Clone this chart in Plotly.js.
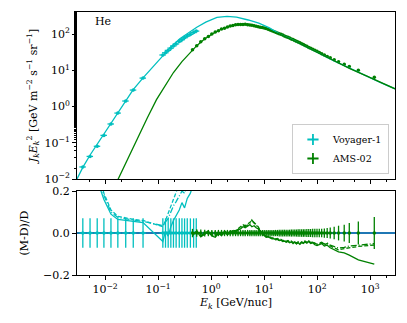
<!DOCTYPE html>
<html>
<head>
<meta charset="utf-8">
<script src="https://cdn.plot.ly/plotly-3.0.1.min.js"></script>
<style>
html, body { margin: 0; padding: 0; background: #fff; }
#chart { width: 407px; height: 323px; }
</style>
</head>
<body>
<div id="chart"></div>
<script>
// Voyager-1 He (kinetic energy per nucleon in GeV/nuc, E^2 J)
const vgE = [0.0038, 0.0052, 0.0071, 0.0095, 0.0129, 0.0174, 0.0245, 0.034, 0.052,
  0.123, 0.138, 0.155, 0.174, 0.195, 0.219, 0.251, 0.282, 0.316, 0.355, 0.407, 0.468, 0.525];
const vgFlux = [0.0215, 0.042, 0.08, 0.16, 0.33, 0.66, 1.42, 2.85, 6.1,
  26.5, 30.5, 35.5, 41, 47, 53.5, 62, 70, 79, 88, 98, 110, 121];
const vgErr = [0.07, 0.07, 0.07, 0.07, 0.07, 0.07, 0.07, 0.07, 0.07,
  0.07, 0.07, 0.07, 0.07, 0.07, 0.07, 0.07, 0.07, 0.07, 0.07, 0.07, 0.07, 0.07];
// (M-D)/D of the three model variants against Voyager-1
const vgResSolid = [0.45, 0.35, 0.26, 0.16, 0.09, 0.065, 0.06, 0.055, 0.05,
  -0.04, 0.01, -0.015, 0.03, 0.06, 0.085, 0.11, 0.145, 0.12, 0.165, 0.19, 0.24, 0.3];
const vgResDash = [0.5, 0.4, 0.3, 0.19, 0.11, 0.08, 0.072, 0.065, 0.06,
  0.03, 0.06, 0.09, 0.12, 0.15, 0.18, 0.22, 0.26, 0.28, 0.32, 0.36, 0.4, 0.45];
const vgResDot = [0.48, 0.38, 0.28, 0.18, 0.1, 0.075, 0.068, 0.062, 0.055,
  0.035, 0.05, 0.07, 0.1, 0.13, 0.15, 0.18, 0.2, 0.19, 0.24, 0.28, 0.32, 0.36];

// AMS-02 He
const amsE = [0.446, 0.536, 0.639, 0.758, 0.889, 1.033, 1.198, 1.375, 1.573, 1.792,
  2.033, 2.295, 2.579, 2.893, 3.228, 3.595, 3.992, 4.4, 4.893, 5.387,
  5.882, 6.477, 7.072, 7.768, 8.464, 9.26, 10.06, 10.96, 11.95, 12.95,
  14.05, 15.25, 16.49, 17.84, 19.29, 20.84, 22.49, 24.2, 26.1, 28.2,
  30.3, 32.7, 35.2, 37.9, 40.8, 43.9, 47.3, 51.1, 55.1, 59.1,
  64.1, 69.6, 75.6, 82.6, 90.6, 99.6, 110, 122, 137, 155,
  177, 210, 254, 325, 405, 600, 1200];
const amsFlux = [36.7, 47.5, 61.4, 74.5, 85.4, 100.3, 114, 124, 139, 146,
  158, 167, 172, 180, 183, 184, 183, 186, 180, 177,
  175, 170, 165, 159, 155, 151, 147, 142, 136, 130,
  123, 118, 113, 108, 103, 98.3, 94.0, 89.3, 85.1, 81.2,
  78.0, 73.8, 70.7, 66.8, 63.9, 60.5, 57.7, 54.2, 51.5, 48.5,
  46.0, 43.0, 40.6, 38.1, 35.9, 33.6, 31.1, 28.7, 26.6, 24.2,
  22.2, 19.7, 17.3, 14.7, 12.7, 10.0, 6.4];
const amsErr = [0.02, 0.018, 0.017, 0.016, 0.015, 0.015, 0.015, 0.015, 0.015, 0.015,
  0.015, 0.015, 0.015, 0.015, 0.015, 0.015, 0.015, 0.015, 0.015, 0.015,
  0.015, 0.015, 0.015, 0.015, 0.015, 0.015, 0.015, 0.015, 0.015, 0.015,
  0.015, 0.015, 0.015, 0.015, 0.016, 0.016, 0.016, 0.016, 0.016, 0.016,
  0.016, 0.017, 0.017, 0.017, 0.017, 0.018, 0.018, 0.018, 0.018, 0.018,
  0.019, 0.019, 0.019, 0.02, 0.02, 0.02, 0.02, 0.02, 0.022, 0.024,
  0.026, 0.03, 0.035, 0.04, 0.048, 0.055, 0.076];
const amsResSolid = [-0.012, 0.008, -0.018, -0.005, 0.006, -0.014, -0.02, -0.002, -0.012, 0.004,
  -0.008, 0.002, 0.01, 0.005, 0.015, 0.02, 0.03, 0.025, 0.035, 0.04,
  0.03, 0.035, 0.025, 0.02, 0.005, -0.005, -0.012, -0.02, -0.018, -0.024,
  -0.028, -0.026, -0.032, -0.03, -0.036, -0.034, -0.04, -0.038, -0.044, -0.04,
  -0.046, -0.042, -0.05, -0.044, -0.052, -0.046, -0.054, -0.045, -0.05, -0.042,
  -0.048, -0.04, -0.05, -0.046, -0.056, -0.06, -0.055, -0.05, -0.062, -0.058,
  -0.07, -0.078, -0.09, -0.095, -0.105, -0.128, -0.148];
const amsResDash = [-0.008, 0.012, -0.012, 0.0, 0.01, -0.008, -0.014, 0.004, -0.006, 0.01,
  -0.002, 0.008, 0.014, 0.01, 0.02, 0.03, 0.04, 0.035, 0.045, 0.05,
  0.058, 0.05, 0.04, 0.03, 0.01, 0.0, -0.01, -0.016, -0.014, -0.02,
  -0.024, -0.022, -0.028, -0.026, -0.032, -0.03, -0.036, -0.034, -0.04, -0.036,
  -0.042, -0.038, -0.046, -0.04, -0.048, -0.042, -0.05, -0.042, -0.046, -0.038,
  -0.044, -0.036, -0.046, -0.042, -0.05, -0.054, -0.05, -0.046, -0.056, -0.05,
  -0.062, -0.07, -0.08, -0.074, -0.07, -0.064, -0.057];
const amsResDot = [-0.01, 0.01, -0.015, -0.002, 0.008, -0.01, -0.016, 0.002, -0.008, 0.007,
  -0.004, 0.005, 0.012, 0.008, 0.018, 0.026, 0.036, 0.03, 0.04, 0.045,
  0.062, 0.045, 0.035, 0.026, 0.008, -0.002, -0.012, -0.018, -0.016, -0.022,
  -0.026, -0.024, -0.03, -0.028, -0.034, -0.032, -0.038, -0.036, -0.042, -0.038,
  -0.044, -0.04, -0.048, -0.042, -0.05, -0.044, -0.052, -0.044, -0.048, -0.04,
  -0.046, -0.038, -0.048, -0.044, -0.052, -0.056, -0.048, -0.044, -0.052, -0.048,
  -0.058, -0.064, -0.072, -0.068, -0.062, -0.058, -0.05];

// model curves: interstellar (cyan) and modulated at earth (green)
const lisE = [0.00295, 0.0038, 0.00525, 0.00708, 0.00955, 0.0129, 0.0174, 0.0245, 0.0339, 0.0525,
  0.0794, 0.123, 0.178, 0.257, 0.372, 0.537, 0.794, 1.29, 2.0, 3.02,
  5.01, 7.94, 12.6, 20, 31.6, 47.9, 100, 204, 417, 871, 1585, 2951];
const lisFlux = [0.01, 0.0209, 0.0468, 0.0912, 0.174, 0.347, 0.692, 1.48, 2.95, 6.31,
  12.6, 26.3, 45.7, 74.1, 110, 155, 214, 288, 309, 295,
  245, 200, 148, 99, 74, 55, 31.6, 18.6, 11.2, 6.92, 4.57, 3.09];
const modE = [0.0158, 0.0282, 0.0457, 0.0631, 0.0933, 0.135, 0.195, 0.282, 0.398, 0.537,
  0.741, 1.10, 1.58, 2.24, 3.16, 4.47, 6.31, 11.2, 20, 31.6,
  47.9, 100, 204, 417, 871, 1585, 2951];
const modFlux = [0.00708, 0.0427, 0.186, 0.501, 1.55, 3.72, 8.71, 17.4, 30.9, 47.9,
  72.4, 105, 138, 166, 186, 191, 178, 138, 97.7, 72.4,
  54.3, 31.6, 18.6, 11.2, 6.92, 4.57, 3.09];

// tick labels
const xTickVals = [0.01, 0.1, 1, 10, 100, 1000];
const xTickText = ['10<sup>−2</sup>', '10<sup>−1</sup>', '10<sup>0</sup>', '10<sup>1</sup>', '10<sup>2</sup>', '10<sup>3</sup>'];
const yTickVals = [0.01, 0.1, 1, 10, 100];
const yTickText = ['10<sup>−2</sup>', '10<sup>−1</sup>', '10<sup>0</sup>', '10<sup>1</sup>', '10<sup>2</sup>'];

const cyan = '#00bfbf';
const green = '#008000';
const font = { family: 'DejaVu Serif', size: 11, color: '#000' };

function dataTrace(x, y, err, color, xa, ya, xpct) {
  return {
    x: x, y: y, xaxis: xa, yaxis: ya, type: 'scatter', mode: 'markers',
    marker: { color: color, size: 3.5 },
    error_y: { type: 'data', array: err, color: color, thickness: 1.3, width: 0 },
    error_x: { type: 'percent', value: xpct, color: color, thickness: 1.3, width: 0 },
    showlegend: false, hoverinfo: 'skip'
  };
}
function lineTrace(x, y, color, dash, xa, ya) {
  return {
    x: x, y: y, xaxis: xa, yaxis: ya, type: 'scatter', mode: 'lines',
    line: { color: color, width: 1.3, dash: dash },
    showlegend: false, hoverinfo: 'skip'
  };
}

const vgAbsErr = vgFlux.map((f, i) => f * vgErr[i]);
const amsAbsErr = amsFlux.map((f, i) => f * amsErr[i]);
const vgZero = vgE.map(() => 0);
const amsZero = amsE.map(() => 0);

const data = [
  // top panel
  dataTrace(vgE, vgFlux, vgAbsErr, cyan, 'x2', 'y2', 14),
  dataTrace(amsE, amsFlux, amsAbsErr, green, 'x2', 'y2', 5),
  lineTrace(lisE, lisFlux, cyan, 'solid', 'x2', 'y2'),
  lineTrace(modE, modFlux, green, 'solid', 'x2', 'y2'),
  // residual panel
  dataTrace(vgE, vgZero, vgErr, cyan, 'x', 'y', 14),
  dataTrace(amsE, amsZero, amsErr, green, 'x', 'y', 5),
  lineTrace(vgE, vgResSolid, cyan, 'solid', 'x', 'y'),
  lineTrace(vgE, vgResDash, cyan, '4px,2px', 'x', 'y'),
  lineTrace(vgE, vgResDot, cyan, '6px,2px,1px,2px', 'x', 'y'),
  lineTrace(amsE, amsResSolid, green, 'solid', 'x', 'y'),
  lineTrace(amsE, amsResDash, green, '4px,2px', 'x', 'y'),
  lineTrace(amsE, amsResDot, green, '6px,2px,1px,2px', 'x', 'y'),
  // legend entries
  { x: [null], y: [null], xaxis: 'x2', yaxis: 'y2', type: 'scatter', mode: 'markers', name: 'Voyager-1',
    marker: { symbol: 'cross-thin', size: 8, color: cyan, line: { color: cyan, width: 1.8 } } },
  { x: [null], y: [null], xaxis: 'x2', yaxis: 'y2', type: 'scatter', mode: 'markers', name: 'AMS-02',
    marker: { symbol: 'cross-thin', size: 8, color: green, line: { color: green, width: 1.8 } } }
];

const axisBase = {
  showline: true, linecolor: '#000', linewidth: 1, mirror: true,
  ticks: 'outside', ticklen: 4, tickwidth: 1, tickcolor: '#000',
  showgrid: false, zeroline: false, tickfont: font
};
const minorTicks = { ticks: 'outside', ticklen: 2, tickcolor: '#000', showgrid: false };

const layout = {
  width: 407, height: 323,
  margin: { l: 77, r: 12, t: 12, b: 48 },
  paper_bgcolor: '#fff', plot_bgcolor: '#fff',
  font: font,
  xaxis: Object.assign({}, axisBase, {
    type: 'log', range: [-2.53, 3.47], tickvals: xTickVals, ticktext: xTickText,
    anchor: 'y', domain: [0, 1], minor: minorTicks,
    title: { text: '<i>E<sub>k</sub></i> [GeV/nuc]', font: font, standoff: 2 }
  }),
  xaxis2: Object.assign({}, axisBase, {
    type: 'log', range: [-2.53, 3.47], tickvals: xTickVals, matches: 'x',
    anchor: 'y2', showticklabels: false, minor: minorTicks
  }),
  yaxis: Object.assign({}, axisBase, {
    domain: [0, 0.319], range: [-0.2, 0.2], dtick: 0.2, tickformat: '.1f',
    zeroline: true, zerolinecolor: '#1f77b4', zerolinewidth: 1.3,
    title: { text: '(M-D)/D', font: font, standoff: 12 }
  }),
  yaxis2: Object.assign({}, axisBase, {
    type: 'log', domain: [0.365, 1], range: [-2, 2.61], tickvals: yTickVals, ticktext: yTickText,
    minor: minorTicks,
    title: { text: '<i>J<sub>k</sub>E<sub>k</sub></i><sup>2</sup> [GeV m<sup>−2</sup> s<sup>−1</sup> sr<sup>−1</sup>]', font: font, standoff: 4 }
  }),
  legend: {
    x: 0.981, xanchor: 'right', y: 0.384, yanchor: 'bottom',
    bgcolor: 'rgba(255,255,255,0.8)', bordercolor: '#cccccc', borderwidth: 1,
    font: { family: 'DejaVu Serif', size: 9.5, color: '#000' },
    tracegroupgap: 0, itemwidth: 30
  },
  annotations: [{
    text: 'He', xref: 'paper', yref: 'paper', x: 0.05, y: 0.965,
    xanchor: 'left', yanchor: 'middle', showarrow: false, font: font
  }]
};

Plotly.newPlot('chart', data, layout, { displayModeBar: false, staticPlot: true });
</script>
</body>
</html>
